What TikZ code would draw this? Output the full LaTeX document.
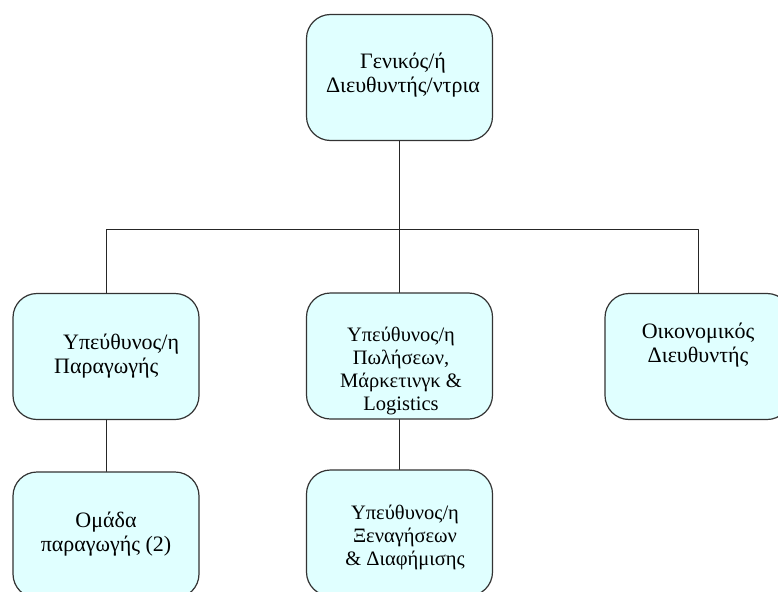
\documentclass[tikz,border=0pt]{standalone}
\usepackage{fontspec}
\setmainfont{Liberation Serif}
\definecolor{boxcyan}{RGB}{224,255,255}
\begin{document}
\begin{tikzpicture}[x=1pt,y=-1pt,line join=round,line cap=round]
	\tikzset{box/.style={draw=black!80,line width=1.2pt,fill=boxcyan,rounded corners=24pt,minimum width=186pt,minimum height=126pt,inner sep=0pt},
		txt/.style={align=center,font=\fontsize{22}{24}\selectfont,inner sep=0pt},
		smalltxt/.style={txt,font=\fontsize{20.5}{23}\selectfont},
		wire/.style={draw=black!85,line width=0.9pt}}
	\useasboundingbox (0,0) rectangle (778,591);
	\clip (0,0) rectangle (778,591);
	% boxes
	\node[box] (gm) at (399.5,77.5) {};
	\node[box] (prod) at (106,356.5) {};
	\node[box] (sales) at (399.5,356) {};
	\node[box] (fin) at (698,356.5) {};
	\node[box] (team) at (106,535) {};
	\node[box] (tours) at (399.5,533) {};
	% texts
	\node[txt] (gmtext) at (403,75) {Γενικός/ή\\Διευθυντής/ντρια};
	\node[txt,align=left,anchor=west] (prodtext) at (54,356.5) {\hspace{9pt}Υπεύθυνος/η\\Παραγωγής};
	\node[smalltxt] (salestext) at (401,371) {Υπεύθυνος/η\\Πωλήσεων,\\Μάρκετινγκ \&\\Logistics};
	\node[txt] (fintext) at (698,345) {Οικονομικός\\Διευθυντής};
	\node[txt] (teamtext) at (106,534) {Ομάδα\\παραγωγής (2)};
	\node[smalltxt] (tourstext) at (405,537) {Υπεύθυνος/η\\Ξεναγήσεων\\\& Διαφήμισης};
	% lines
	\draw[wire] (gm.south) -- ++(0,88) coordinate (bus);
	\foreach \n in {prod,sales,fin}
	\draw[wire] (bus) -| (\n.north);
	\draw[wire] (prod.south) -- (team.north);
	\draw[wire] (sales.south) -- (tours.north);
\end{tikzpicture}
\end{document}
